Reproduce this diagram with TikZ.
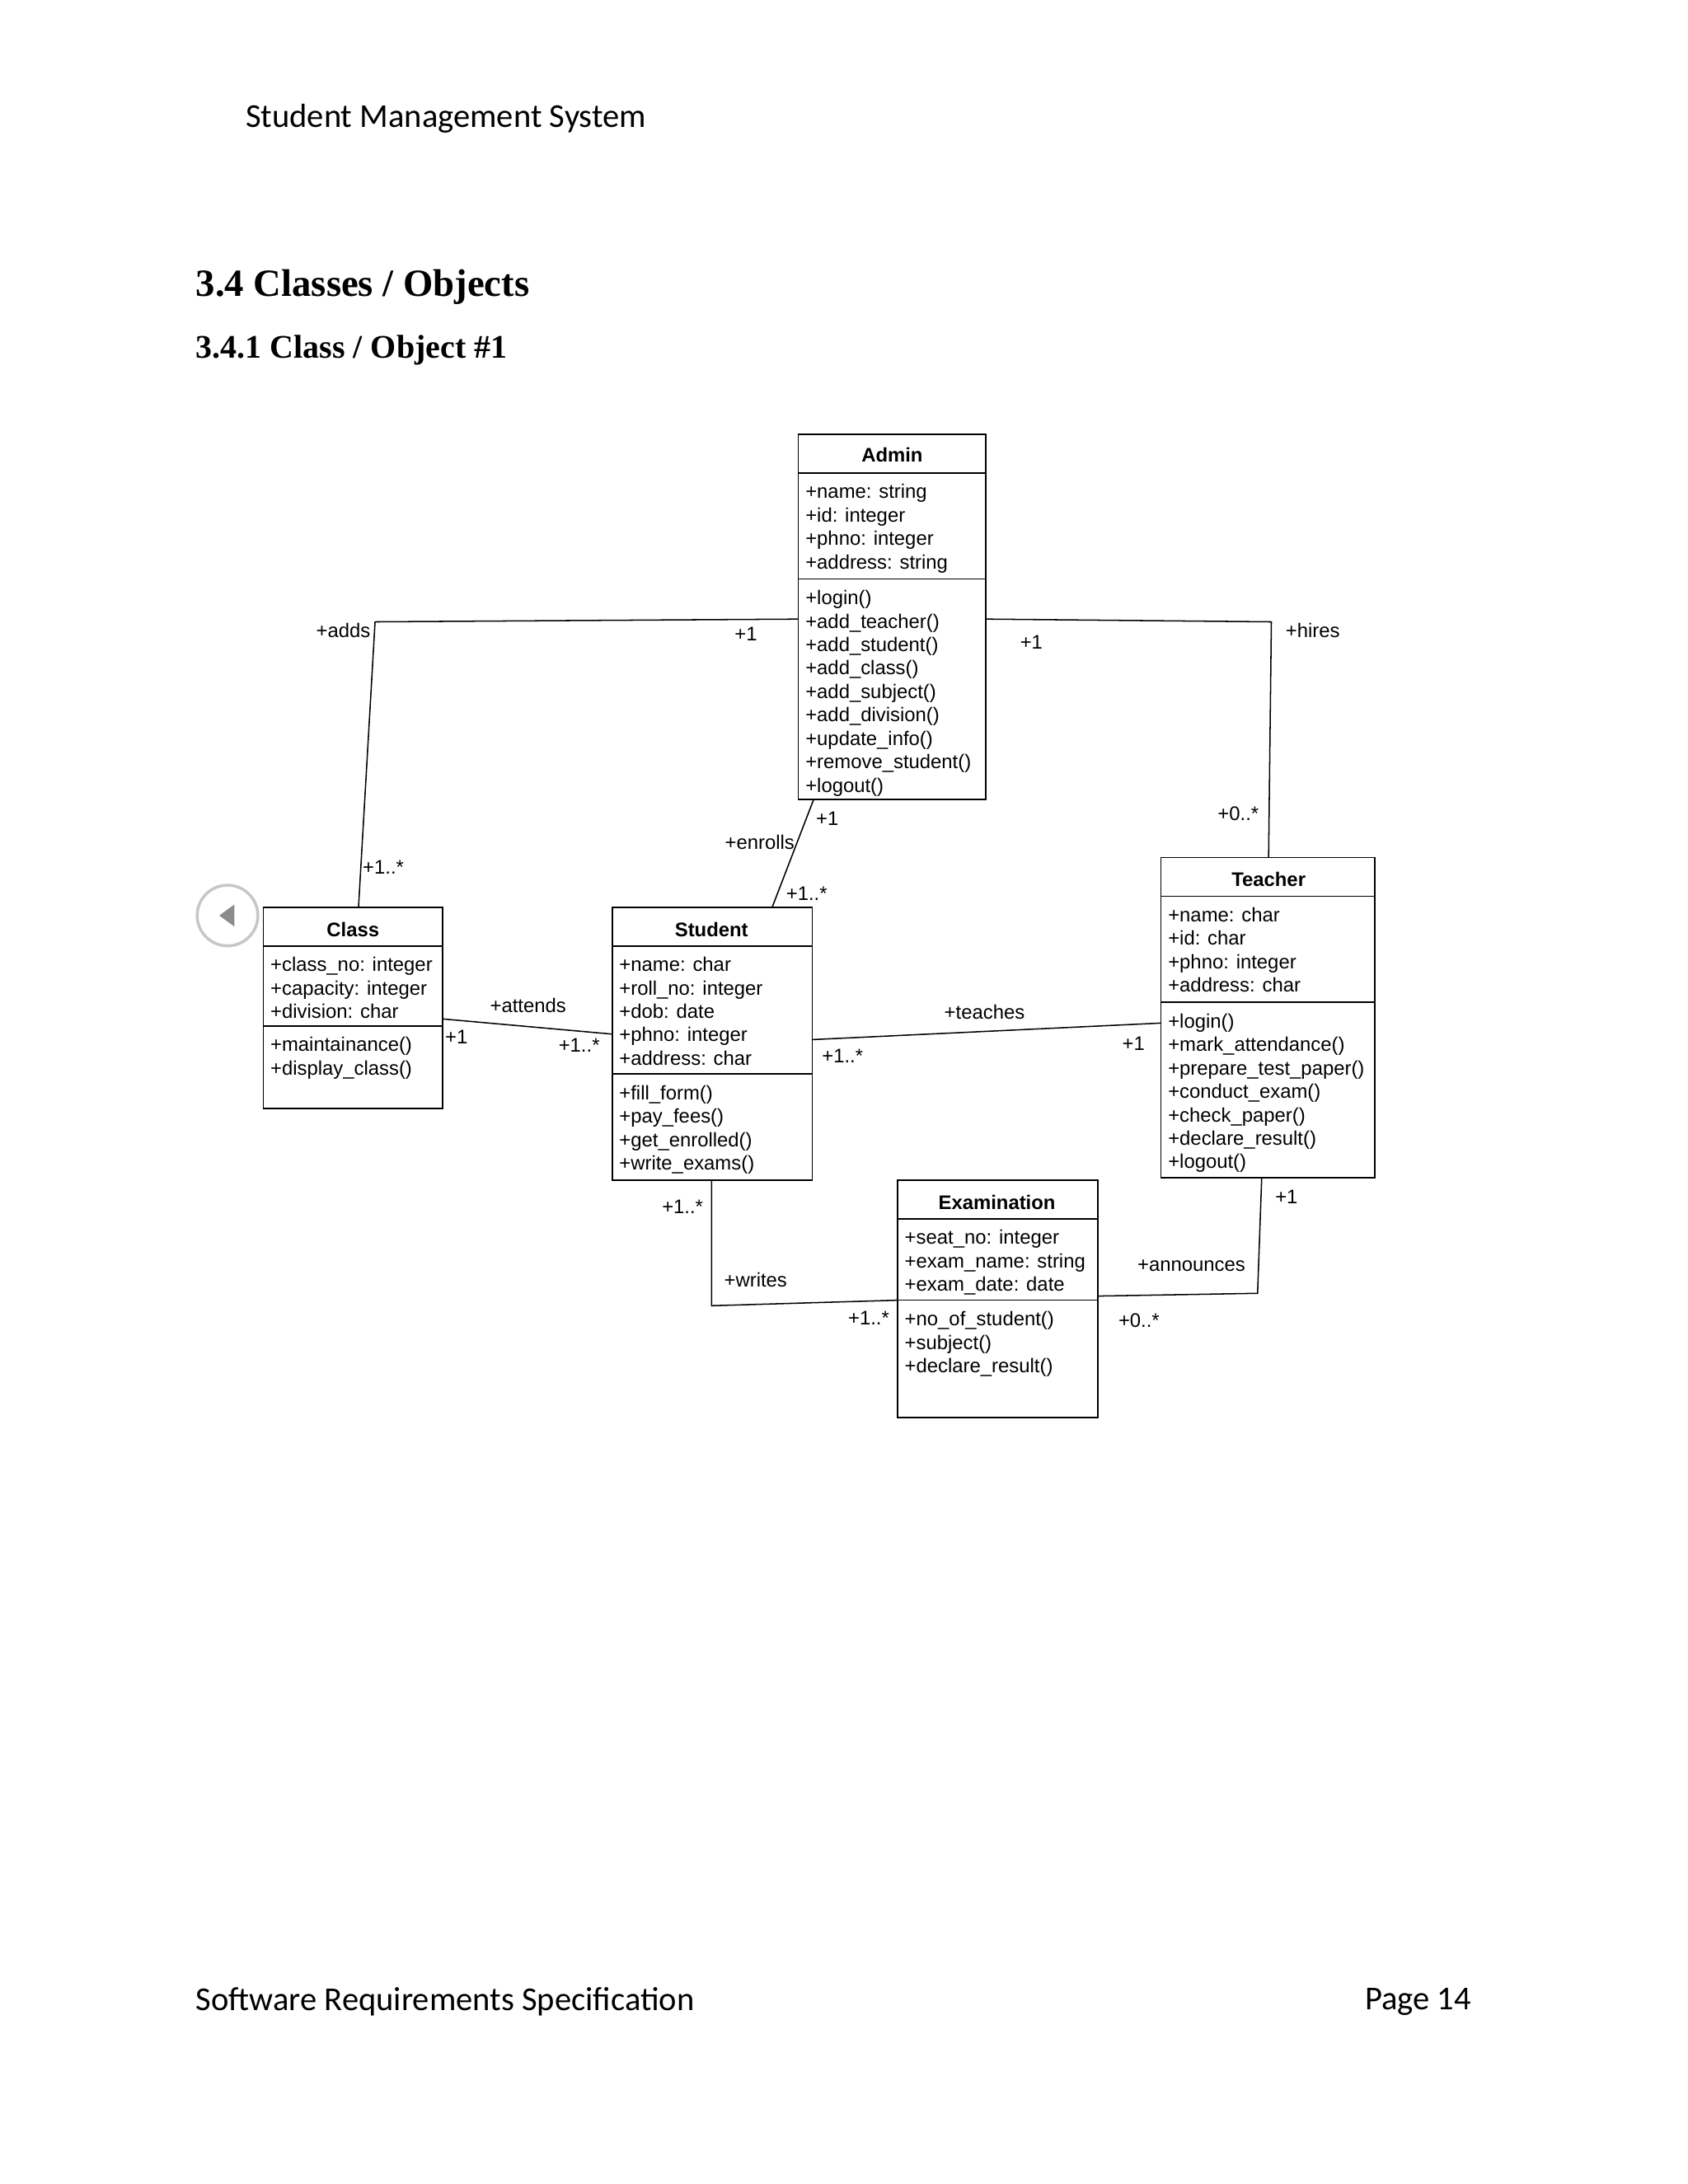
\documentclass[tikz,border=0pt]{standalone}
\usepackage{fontspec}
\setmainfont{Liberation Sans}
\newfontfamily\serifb{Liberation Serif}
\newfontfamily\calib{Carlito}
\begin{document}
\begin{tikzpicture}[x=0.05cm,y=-0.05cm,
  box/.style={draw,line width=1.4pt,anchor=north west,inner sep=0,outer sep=0,fill=white},
  dv/.style={line width=1.4pt},
  txt/.style={font=\fontsize{20.3}{24.2}\selectfont,anchor=north west,inner sep=0,align=left},
  ttl/.style={font=\fontsize{20.3}{24}\selectfont\bfseries,inner sep=0},
  lbl/.style={font=\fontsize{20.3}{22}\selectfont,inner sep=0},
  conn/.style={line width=1.3pt}]
\useasboundingbox (0,0) rectangle (1224,1584);
\fill[white] (0,0) rectangle (1224,1584);
% page text
\node[font=\calib\fontsize{34.5}{40}\selectfont,anchor=west,inner sep=0] (hdr) at (178,86) {Student Management System};
\node[font=\serifb\fontsize{39.7}{44}\selectfont\bfseries,anchor=west,inner sep=0] (h1) at (142,208) {3.4 Classes / Objects};
\node[font=\serifb\fontsize{34}{38}\selectfont\bfseries,anchor=west,inner sep=0] (h2) at (142,254) {3.4.1 Class / Object \#1};
\node[font=\calib\fontsize{34.5}{40}\selectfont,anchor=west,inner sep=0] (ftl) at (142,1452) {Software Requirements Specification};
\node[font=\calib\fontsize{34.5}{40}\selectfont,anchor=east,inner sep=0] (ftr) at (1067,1452) {Page 14};
% nav circle
\node[circle,draw=black!22,line width=3pt,minimum size=44*1.4226pt,inner sep=0] (nav) at (165,664) {};
\fill[black!45] (159,664) -- (170,656) -- (170,672) -- cycle;
% Admin
\node[box,minimum width=136*1.4226pt,minimum height=265*1.4226pt] (admin) at (579,315) {};
\draw[dv] (579,343) -- (715,343) (579,420) -- (715,420);
\node[ttl] (adt) at (647,330) {Admin};
\node[txt] (ada) at (584,351) {+name: string\\+id: integer\\+phno: integer\\+address: string};
\node[txt] (adm) at (584,428) {+login()\\+add\_teacher()\\+add\_student()\\+add\_class()\\+add\_subject()\\+add\_division()\\+update\_info()\\+remove\_student()\\+logout()};
% Class
\node[box,minimum width=130*1.4226pt,minimum height=146*1.4226pt] (class) at (191,658) {};
\draw[dv] (191,686) -- (321,686) (191,744) -- (321,744);
\node[ttl] (clt) at (256,674) {Class};
\node[txt] (cla) at (196,694) {+class\_no: integer\\+capacity: integer\\+division: char};
\node[txt] (clm) at (196,752) {+maintainance()\\+display\_class()};
% Student
\node[box,minimum width=145*1.4226pt,minimum height=198*1.4226pt] (student) at (444,658) {};
\draw[dv] (444,686) -- (589,686) (444,779) -- (589,779);
\node[ttl] (stt) at (516,674) {Student};
\node[txt] (sta) at (449,694) {+name: char\\+roll\_no: integer\\+dob: date\\+phno: integer\\+address: char};
\node[txt] (stm) at (449,787) {+fill\_form()\\+pay\_fees()\\+get\_enrolled()\\+write\_exams()};
% Teacher
\node[box,minimum width=155*1.4226pt,minimum height=232*1.4226pt] (teacher) at (842,622) {};
\draw[dv] (842,650) -- (997,650) (842,727) -- (997,727);
\node[ttl] (tet) at (920,638) {Teacher};
\node[txt] (tea) at (847,658) {+name: char\\+id: char\\+phno: integer\\+address: char};
\node[txt] (tem) at (847,735) {+login()\\+mark\_attendance()\\+prepare\_test\_paper()\\+conduct\_exam()\\+check\_paper()\\+declare\_result()\\+logout()};
% Examination
\node[box,minimum width=145*1.4226pt,minimum height=172*1.4226pt] (exam) at (651,856) {};
\draw[dv] (651,884) -- (796,884) (651,943) -- (796,943);
\node[ttl] (ext) at (723,872) {Examination};
\node[txt] (exa) at (656,892) {+seat\_no: integer\\+exam\_name: string\\+exam\_date: date};
\node[txt] (exm) at (656,951) {+no\_of\_student()\\+subject()\\+declare\_result()};
% connector points
\coordinate (a1) at (579,449); \coordinate (a1c) at (272,451); \coordinate (c1) at (260,658);
\coordinate (a2) at (715,449); \coordinate (a2c) at (922,451); \coordinate (t1) at (920,622);
\coordinate (a3) at (590,580); \coordinate (s1) at (560,658);
\coordinate (c2) at (321,739); \coordinate (s2) at (444,750);
\coordinate (s3) at (589,754); \coordinate (t2) at (842,742);
\coordinate (s4) at (516,856); \coordinate (s4c) at (516,947); \coordinate (e1) at (651,943);
\coordinate (e2) at (796,940); \coordinate (e2c) at (912,938); \coordinate (t3) at (915,854);
\draw[conn] (a1) -- (a1c) -- (c1);
\draw[conn] (a2) -- (a2c) -- (t1);
\draw[conn] (a3) -- (s1);
\draw[conn] (c2) -- (s2);
\draw[conn] (s3) -- (t2);
\draw[conn] (s4) -- (s4c) -- (e1);
\draw[conn] (e2) -- (e2c) -- (t3);
% labels
\node[lbl] (l1) at (249,457) {+adds};
\node[lbl] (l2) at (541,460) {+1};
\node[lbl] (l3) at (278,629) {+1..*};
\node[lbl] (l4) at (748,466) {+1};
\node[lbl] (l5) at (952,457) {+hires};
\node[lbl] (l6) at (898,590) {+0..*};
\node[lbl] (l7) at (551,611) {+enrolls};
\node[lbl] (l8) at (600,594) {+1};
\node[lbl] (l9) at (585,648) {+1..*};
\node[lbl] (l10) at (383,729) {+attends};
\node[lbl] (l11) at (331,752) {+1};
\node[lbl] (l12) at (420,758) {+1..*};
\node[lbl] (l13) at (714,734) {+teaches};
\node[lbl] (l14) at (611,766) {+1..*};
\node[lbl] (l15) at (822,757) {+1};
\node[lbl] (l16) at (495,875) {+1..*};
\node[lbl] (l17) at (548,928) {+writes};
\node[lbl] (l18) at (630,956) {+1..*};
\node[lbl] (l19) at (864,918) {+announces};
\node[lbl] (l20) at (933,868) {+1};
\node[lbl] (l21) at (826,958) {+0..*};
\end{tikzpicture}
\end{document}
